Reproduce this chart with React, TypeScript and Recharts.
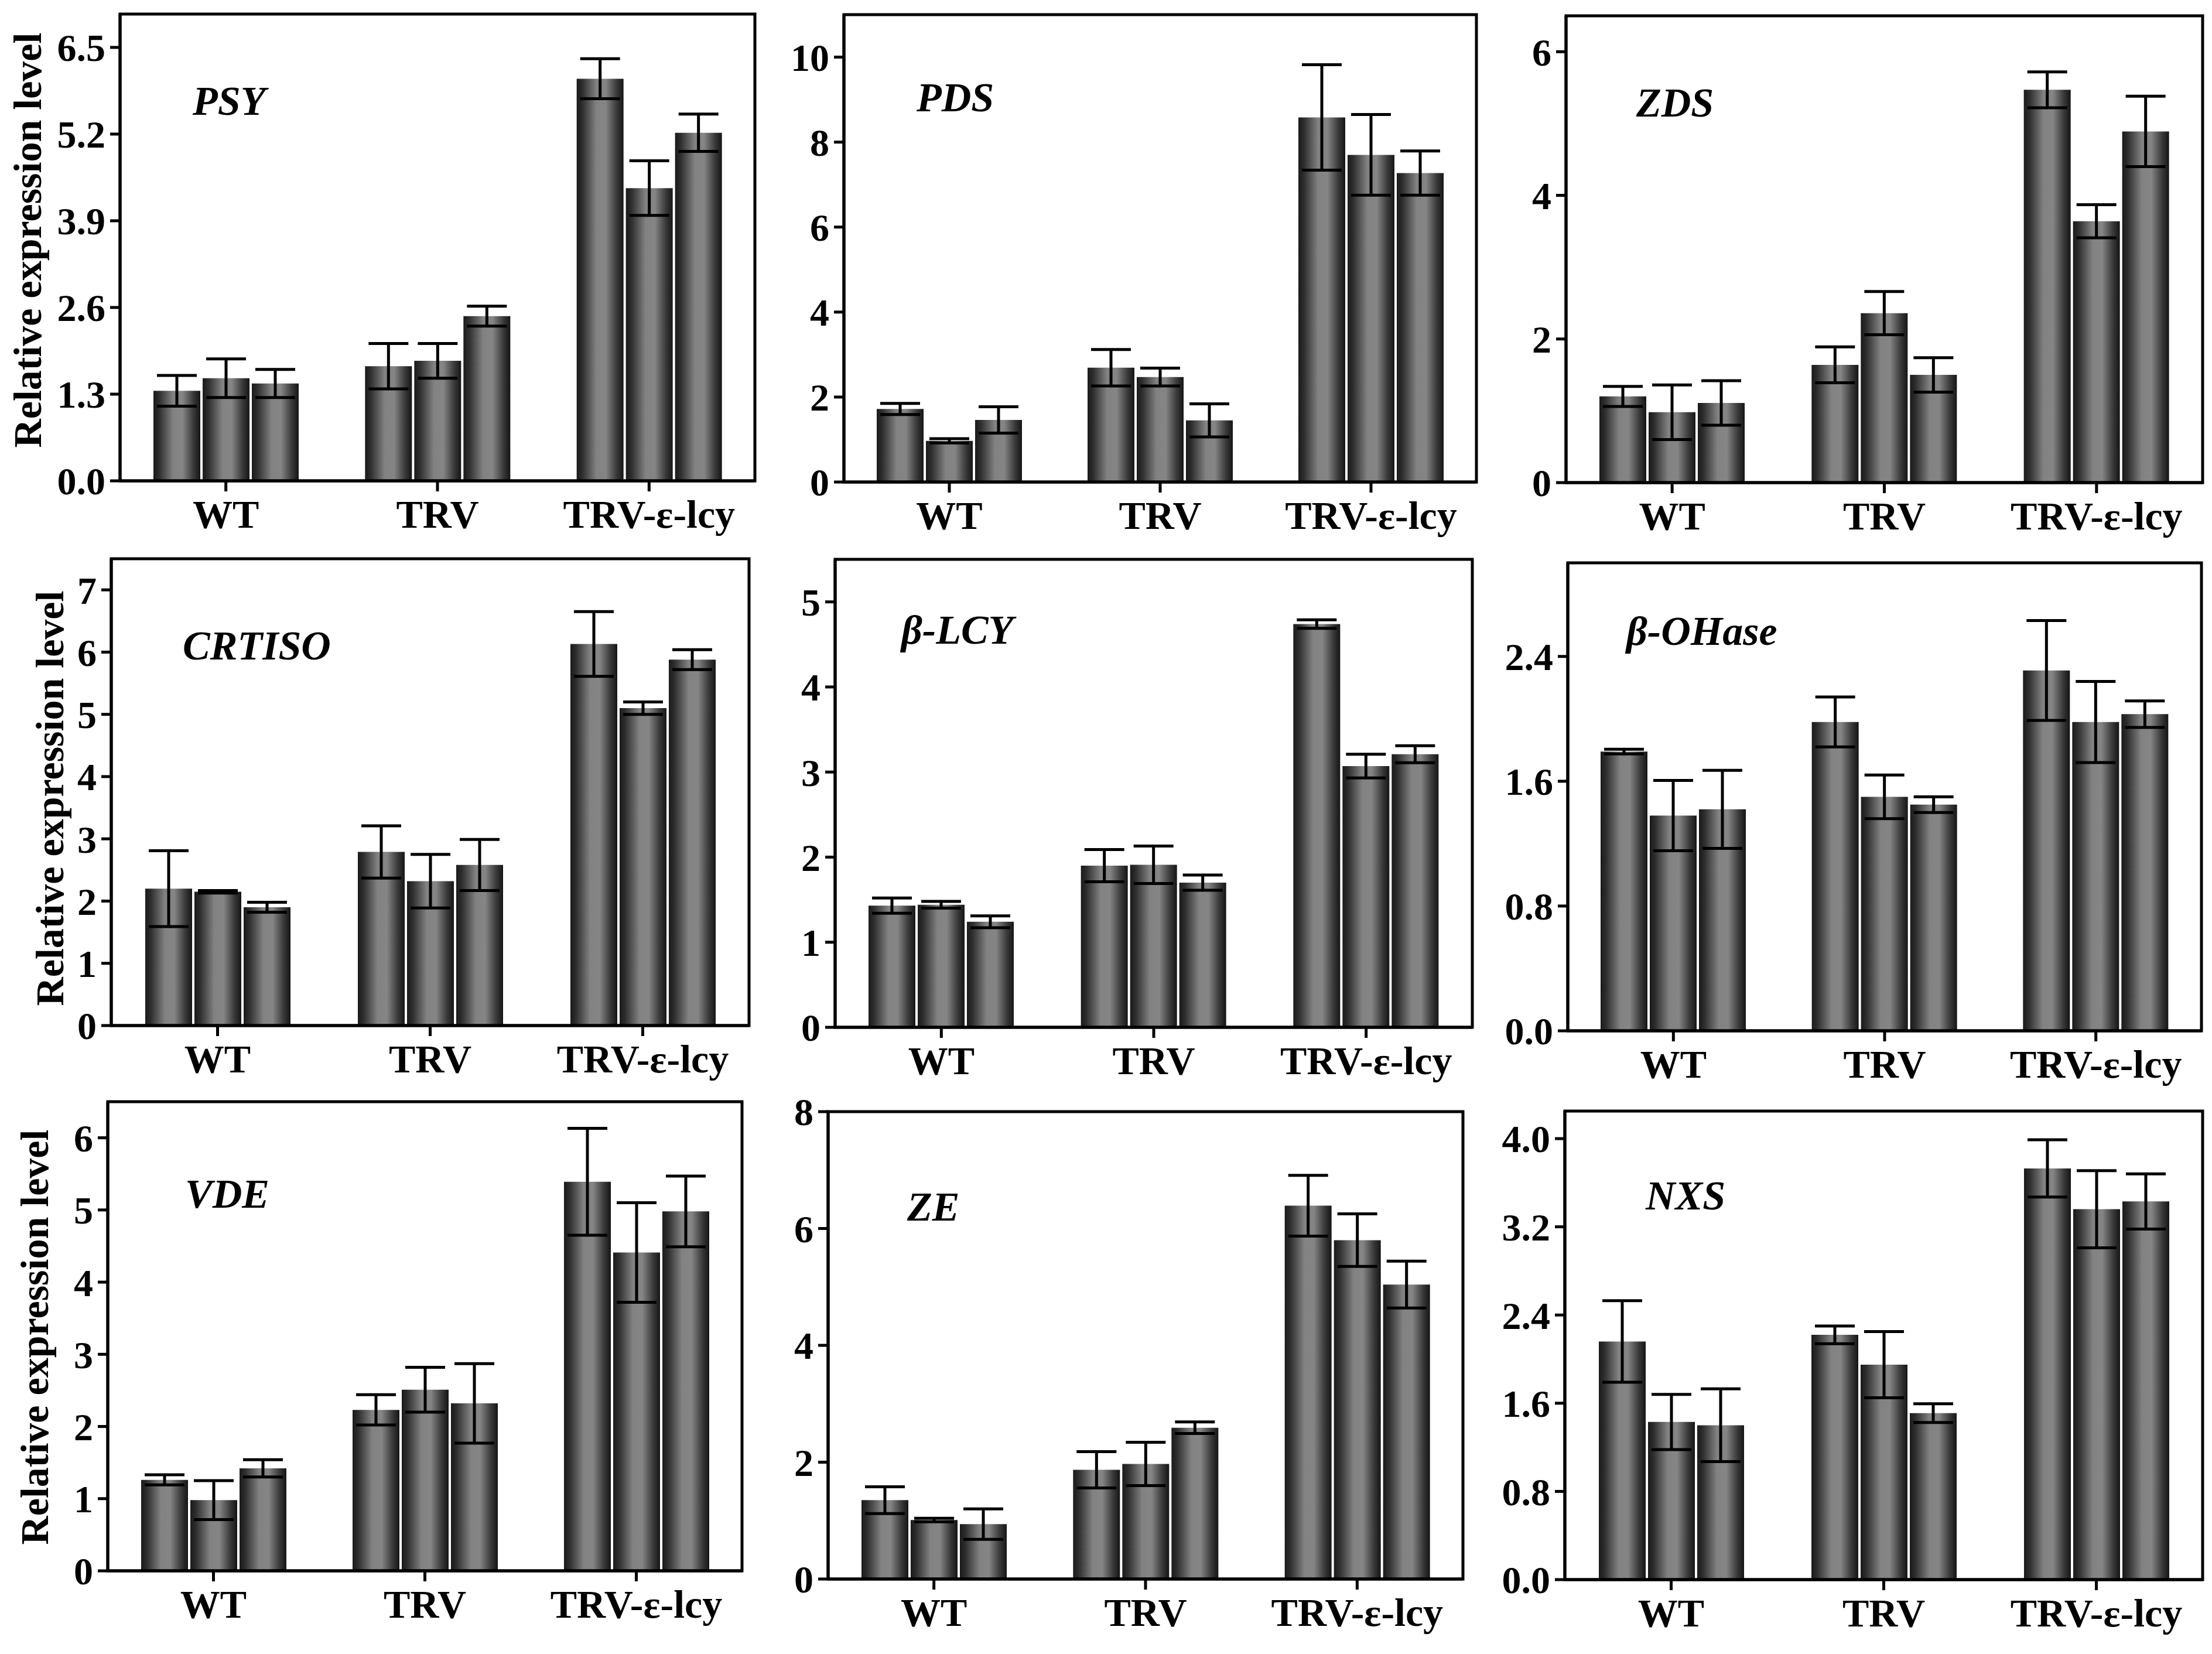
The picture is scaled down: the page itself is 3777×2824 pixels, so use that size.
import { BarChart, Bar, XAxis, YAxis, ErrorBar } from "recharts";

const categories = ["WT", "TRV", "TRV-ε-lcy"];

// three replicates per category, in category order
const psyVal = [1.35, 1.54, 1.46, 1.72, 1.8, 2.47, 6.03, 4.39, 5.22];
const psyErr = [0.23, 0.29, 0.21, 0.34, 0.26, 0.15, 0.3, 0.41, 0.28];
const psyTicks = [0, 1.3, 2.6, 3.9, 5.2, 6.5];

const pdsVal = [1.72, 0.97, 1.46, 2.69, 2.47, 1.45, 8.58, 7.7, 7.27];
const pdsErr = [0.13, 0.05, 0.31, 0.43, 0.21, 0.39, 1.24, 0.95, 0.52];
const pdsTicks = [0, 2, 4, 6, 8, 10];

const zdsVal = [1.2, 0.98, 1.11, 1.64, 2.36, 1.5, 5.47, 3.64, 4.89];
const zdsErr = [0.14, 0.38, 0.31, 0.25, 0.3, 0.24, 0.25, 0.23, 0.49];
const zdsTicks = [0, 2, 4, 6];

const crtisoVal = [2.2, 2.15, 1.9, 2.79, 2.32, 2.58, 6.13, 5.1, 5.88];
const crtisoErr = [0.61, 0.02, 0.08, 0.42, 0.43, 0.41, 0.52, 0.1, 0.16];
const crtisoTicks = [0, 1, 2, 3, 4, 5, 6, 7];

const lcyVal = [1.43, 1.44, 1.24, 1.9, 1.91, 1.7, 4.74, 3.07, 3.21];
const lcyErr = [0.09, 0.04, 0.07, 0.19, 0.22, 0.09, 0.05, 0.14, 0.1];
const lcyTicks = [0, 1, 2, 3, 4, 5];

const ohaseVal = [1.79, 1.38, 1.42, 1.98, 1.5, 1.45, 2.31, 1.98, 2.03];
const ohaseErr = [0.015, 0.225, 0.25, 0.16, 0.14, 0.05, 0.32, 0.26, 0.085];
const ohaseTicks = [0, 0.8, 1.6, 2.4];

const vdeVal = [1.26, 0.98, 1.42, 2.23, 2.51, 2.32, 5.39, 4.41, 4.98];
const vdeErr = [0.07, 0.27, 0.12, 0.21, 0.31, 0.55, 0.74, 0.69, 0.49];
const vdeTicks = [0, 1, 2, 3, 4, 5, 6];

const zeVal = [1.35, 1.01, 0.94, 1.87, 1.97, 2.59, 6.39, 5.8, 5.04];
const zeErr = [0.23, 0.03, 0.26, 0.31, 0.37, 0.1, 0.52, 0.45, 0.4];
const zeTicks = [0, 2, 4, 6, 8];

const nxsVal = [2.16, 1.43, 1.4, 2.22, 1.95, 1.51, 3.73, 3.36, 3.43];
const nxsErr = [0.37, 0.25, 0.33, 0.08, 0.3, 0.085, 0.26, 0.35, 0.25];
const nxsTicks = [0, 0.8, 1.6, 2.4, 3.2, 4.0];

const FONT = "'Liberation Serif', 'Times New Roman', serif";
const YW = 200;
const XH = 110;
const PADT = 45;
const PADR = 10;
const line = { stroke: "#000", strokeWidth: 5 };

// box = [left, top, right, bottom] of the plot frame; label = [x, baseline]
// title = [x of baseline, centre y] of the rotated y-axis title
const panels = [
  { gene: "PSY", val: psyVal, err: psyErr, ticks: psyTicks, max: 7, dec: 1, box: [205, 24, 1289, 821], label: [329, 196], title: [70, 410] },
  { gene: "PDS", val: pdsVal, err: pdsErr, ticks: pdsTicks, max: 11, dec: 0, box: [1441, 25, 2521, 823], label: [1565, 190] },
  { gene: "ZDS", val: zdsVal, err: zdsErr, ticks: zdsTicks, max: 6.5, dec: 0, box: [2674, 27, 3761, 824], label: [2794, 199] },
  { gene: "CRTISO", val: crtisoVal, err: crtisoErr, ticks: crtisoTicks, max: 7.5, dec: 0, box: [190, 954, 1279, 1751], label: [312, 1126], title: [108, 1363] },
  { gene: "β-LCY", val: lcyVal, err: lcyErr, ticks: lcyTicks, max: 5.5, dec: 0, box: [1426, 955, 2514, 1754], label: [1539, 1099] },
  { gene: "β-OHase", val: ohaseVal, err: ohaseErr, ticks: ohaseTicks, max: 3, dec: 1, box: [2677, 961, 3759, 1760], label: [2777, 1101] },
  { gene: "VDE", val: vdeVal, err: vdeErr, ticks: vdeTicks, max: 6.5, dec: 0, box: [184, 1881, 1267, 2682], label: [316, 2062], title: [82, 2283] },
  { gene: "ZE", val: zeVal, err: zeErr, ticks: zeTicks, max: 8, dec: 0, box: [1414, 1898, 2498, 2696], label: [1549, 2084] },
  { gene: "NXS", val: nxsVal, err: nxsErr, ticks: nxsTicks, max: 4.25, dec: 1, box: [2672, 1897, 3761, 2697], label: [2810, 2065] },
];

function Panel({ p }) {
  const [L, T, R, B] = p.box;
  const data = categories.map((name, i) => ({
    name,
    v1: p.val[3 * i],
    v2: p.val[3 * i + 1],
    v3: p.val[3 * i + 2],
    e1: p.err[3 * i],
    e2: p.err[3 * i + 1],
    e3: p.err[3 * i + 2],
  }));

  return (
    <div style={{ position: "absolute", left: L - YW, top: T - PADT }}>
      <BarChart
        width={R - L + YW + PADR}
        height={B - T + PADT + XH}
        data={data}
        margin={{ top: PADT, right: PADR, left: 0, bottom: 0 }}
        barSize={80}
        barGap={4}
      >
        <XAxis
          dataKey="name"
          height={XH}
          axisLine={line}
          tickLine={line}
          tickSize={18}
          tickMargin={14}
          tick={{ fontFamily: FONT, fontWeight: "bold", fontSize: 68, fill: "#000" }}
        />
        <YAxis
          width={YW}
          domain={[0, p.max]}
          allowDataOverflow
          ticks={p.ticks}
          interval={0}
          tickFormatter={(v) => Number(v).toFixed(p.dec)}
          axisLine={line}
          tickLine={line}
          tickSize={17}
          tickMargin={8}
          tick={{ fontFamily: FONT, fontWeight: "bold", fontSize: 66, fill: "#000" }}
        />
        {["1", "2", "3"].map((k) => (
          <Bar key={k} dataKey={"v" + k} fill="url(#barShade)" isAnimationActive={false}>
            <ErrorBar dataKey={"e" + k} direction="y" width={34} stroke="#000" strokeWidth={5} />
          </Bar>
        ))}
      </BarChart>
    </div>
  );
}

export default function App() {
  return (
    <div style={{ position: "absolute", left: 0, top: 0, width: 3777, height: 2824, background: "#fff", overflow: "hidden" }}>
      {panels.map((p) => (
        <Panel key={p.gene} p={p} />
      ))}
      <svg width={3777} height={2824} style={{ position: "absolute", left: 0, top: 0, pointerEvents: "none" }}>
        <defs>
          <linearGradient id="barShade" x1="0" y1="0" x2="1" y2="0">
            <stop offset="0%" stopColor="#1a1a1a" />
            <stop offset="12%" stopColor="#2e2e2e" />
            <stop offset="42%" stopColor="#828282" />
            <stop offset="62%" stopColor="#858585" />
            <stop offset="85%" stopColor="#3a3a3a" />
            <stop offset="100%" stopColor="#151515" />
          </linearGradient>
        </defs>
        {panels.map((p) => (
          <rect
            key={"f" + p.gene}
            x={p.box[0]}
            y={p.box[1]}
            width={p.box[2] - p.box[0]}
            height={p.box[3] - p.box[1]}
            fill="none"
            stroke="#000"
            strokeWidth={5}
          />
        ))}
        {panels.map((p) => (
          <text
            key={p.gene}
            x={p.label[0]}
            y={p.label[1]}
            fontFamily={FONT}
            fontWeight="bold"
            fontStyle="italic"
            fontSize={70}
            fill="#000"
          >
            {p.gene}
          </text>
        ))}
        {panels
          .filter((p) => p.title)
          .map((p) => (
            <text
              key={"t" + p.gene}
              x={0}
              y={0}
              transform={`translate(${p.title[0]},${p.title[1]}) rotate(-90)`}
              textAnchor="middle"
              fontFamily={FONT}
              fontWeight="bold"
              fontSize={68}
              fill="#000"
            >
              Relative expression level
            </text>
          ))}
      </svg>
    </div>
  );
}
